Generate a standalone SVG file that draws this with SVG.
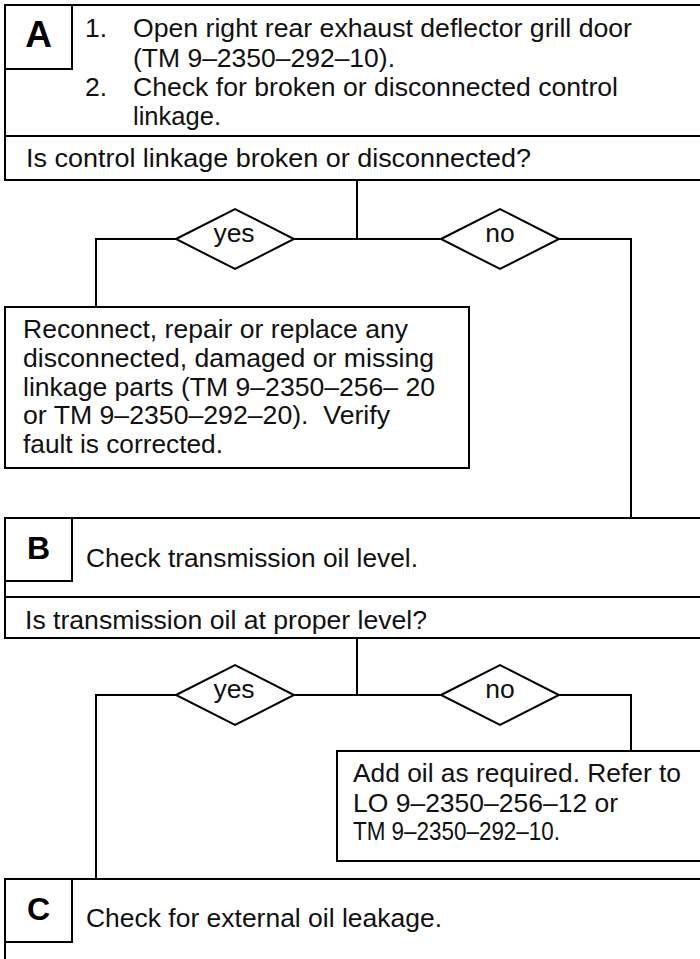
<svg xmlns="http://www.w3.org/2000/svg" width="700" height="959" viewBox="0 0 700 959">
<style>
.box{fill:#fff;stroke:#000;stroke-width:2}
.ln{fill:none;stroke:#000;stroke-width:2}
.t{font-family:"Liberation Sans",Arial,Helvetica,sans-serif;font-size:26.5px;fill:#111}
.lt{font-family:"Liberation Sans",Arial,Helvetica,sans-serif;font-weight:bold;fill:#000;text-anchor:middle}
.c{text-anchor:middle}
</style>
<rect width="700" height="959" fill="#fff"/>
<g id="connectors">
  <polyline class="ln" points="357,180 357,239"/>
  <polyline class="ln" points="294,239 441,239"/>
  <polyline class="ln" points="176,239 96,239 96,307"/>
  <polyline class="ln" points="559,239 631,239 631,518"/>
  <polyline class="ln" points="357,638 357,695"/>
  <polyline class="ln" points="294,695 441,695"/>
  <polyline class="ln" points="176,695 96,695 96,879"/>
  <polyline class="ln" points="559,695 631,695 631,751"/>
</g>
<g id="stepA">
  <rect class="box" x="5" y="5" width="720" height="175"/>
  <line class="ln" x1="5" y1="136" x2="710" y2="136"/>
  <rect class="box" x="5" y="5" width="67" height="64"/>
  <text class="lt" x="38.5" y="47" font-size="37">A</text>
  <text class="t" x="85" y="37">1.</text>
  <text class="t" x="133" y="37" textLength="499" lengthAdjust="spacingAndGlyphs">Open right rear exhaust deflector grill door</text>
  <text class="t" x="133" y="67" textLength="262" lengthAdjust="spacingAndGlyphs">(TM 9–2350–292–10).</text>
  <text class="t" x="85" y="96">2.</text>
  <text class="t" x="133" y="96" textLength="485" lengthAdjust="spacingAndGlyphs">Check for broken or disconnected control</text>
  <text class="t" x="133" y="125" textLength="88" lengthAdjust="spacingAndGlyphs">linkage.</text>
  <text class="t" x="26" y="167" textLength="505" lengthAdjust="spacingAndGlyphs">Is control linkage broken or disconnected?</text>
</g>
<g id="decisionA-yes">
  <polygon class="box" points="176,239 235,209 294,239 235,269"/>
  <text class="t c" x="234" y="242">yes</text>
</g>
<g id="decisionA-no">
  <polygon class="box" points="441,239 500,209 559,239 500,269"/>
  <text class="t c" x="500" y="242">no</text>
</g>
<g id="repair">
  <rect class="box" x="5" y="307" width="464" height="161"/>
  <text class="t" x="23" y="338" textLength="385" lengthAdjust="spacingAndGlyphs">Reconnect, repair or replace any</text>
  <text class="t" x="23" y="367" textLength="411" lengthAdjust="spacingAndGlyphs">disconnected, damaged or missing</text>
  <text class="t" x="23" y="396" textLength="412" lengthAdjust="spacingAndGlyphs">linkage parts (TM 9–2350–256– 20</text>
  <text class="t" x="23" y="424" xml:space="preserve" textLength="367" lengthAdjust="spacingAndGlyphs">or TM 9–2350–292–20).  Verify</text>
  <text class="t" x="23" y="453" textLength="200" lengthAdjust="spacingAndGlyphs">fault is corrected.</text>
</g>
<g id="stepB">
  <rect class="box" x="5" y="518" width="720" height="120"/>
  <line class="ln" x1="5" y1="597" x2="710" y2="597"/>
  <rect class="box" x="5" y="518" width="67" height="63"/>
  <text class="lt" x="38.5" y="559" font-size="32">B</text>
  <text class="t" x="86" y="567" textLength="332" lengthAdjust="spacingAndGlyphs">Check transmission oil level.</text>
  <text class="t" x="25" y="629" textLength="402" lengthAdjust="spacingAndGlyphs">Is transmission oil at proper level?</text>
</g>
<g id="decisionB-yes">
  <polygon class="box" points="176,695 235,665 294,695 235,725"/>
  <text class="t c" x="234" y="698">yes</text>
</g>
<g id="decisionB-no">
  <polygon class="box" points="441,695 500,665 559,695 500,725"/>
  <text class="t c" x="500" y="698">no</text>
</g>
<g id="addoil">
  <rect class="box" x="337" y="751" width="400" height="110"/>
  <text class="t" x="353" y="782" textLength="328" lengthAdjust="spacingAndGlyphs">Add oil as required. Refer to</text>
  <text class="t" x="353" y="812" textLength="265" lengthAdjust="spacingAndGlyphs">LO 9–2350–256–12 or</text>
  <text class="t" x="353" y="840" textLength="207" lengthAdjust="spacingAndGlyphs">TM 9–2350–292–10.</text>
</g>
<g id="stepC">
  <rect class="box" x="5" y="879" width="720" height="100"/>
  <rect class="box" x="5" y="879" width="67" height="63"/>
  <text class="lt" x="38.5" y="920" font-size="32">C</text>
  <text class="t" x="86" y="927" textLength="356" lengthAdjust="spacingAndGlyphs">Check for external oil leakage.</text>
</g>
</svg>
